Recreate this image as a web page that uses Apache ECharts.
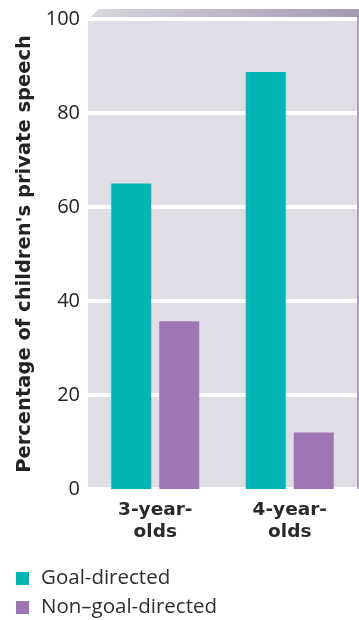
<!DOCTYPE html>
<html>
<head>
<meta charset="utf-8">
<script src="https://cdn.jsdelivr.net/npm/echarts@6/dist/echarts.min.js"></script>
<style>
  html, body { margin: 0; padding: 0; background: #ffffff; }
  #chart { width: 359px; height: 620px; }
</style>
</head>
<body>
<div id="chart"></div>
<script>
// Share of private speech by age group
const categories = ['3-year-\nolds', '4-year-\nolds'];
const goalDirected = [65, 88.7];
const nonGoalDirected = [35.7, 12];
const yTicks = { min: 0, max: 100, interval: 20 };
const seriesNames = ['Goal-directed', 'Non\u2013goal-directed'];

const FONT = '"Open Sans", Lato, sans-serif';
const BOLD_FONT = '"DejaVu Sans", "Open Sans", sans-serif';
const chart = echarts.init(document.getElementById('chart'), null, { renderer: 'canvas' });

const legendBase = {
  orient: 'vertical',
  left: 16,
  padding: 0,
  itemWidth: 13, itemHeight: 13,
  icon: 'rect',
  textStyle: { fontFamily: FONT, fontSize: 20.5, color: '#2e2e2e', padding: [0, 0, 0, 7] }
};

chart.setOption({
  animation: false,
  backgroundColor: '#ffffff',
  grid: {
    left: 88, right: 2, top: 19, bottom: 131,
    show: true, backgroundColor: '#e0dde6', borderWidth: 0
  },
  // top bevel and right side of the panel
  graphic: [
    {
      type: 'polygon',
      shape: { points: [[88, 19.5], [99, 9], [359, 9], [359, 19.5]] },
      style: {
        fill: new echarts.graphic.LinearGradient(0, 0, 1, 0, [
          { offset: 0, color: '#d9d5e1' },
          { offset: 1, color: '#a39bb3' }
        ])
      },
      silent: true
    },
    {
      type: 'rect',
      shape: { x: 357, y: 19, width: 2, height: 470 },
      style: { fill: '#aaa2ba' },
      silent: true
    }
  ],
  legend: [
    Object.assign({}, legendBase, { top: 568, data: [seriesNames[0]] }),
    Object.assign({}, legendBase, { top: 597, data: [seriesNames[1]] })
  ],
  xAxis: {
    type: 'category',
    data: categories,
    axisLine: { show: false },
    axisTick: { show: false },
    axisLabel: {
      fontFamily: BOLD_FONT, fontWeight: 'bold', fontSize: 18.5, color: '#2a2a2a',
      lineHeight: 22, margin: 10, align: 'center'
    }
  },
  yAxis: {
    type: 'value',
    min: yTicks.min, max: yTicks.max, interval: yTicks.interval,
    name: "Percentage of children's private speech",
    nameLocation: 'middle',
    nameRotate: 90,
    nameGap: 52,
    nameTextStyle: { fontFamily: BOLD_FONT, fontWeight: 'bold', fontSize: 19.5, color: '#222222' },
    axisLine: { show: false },
    axisTick: { show: false },
    axisLabel: { fontFamily: FONT, fontSize: 20, color: '#222222', margin: 8 },
    splitLine: { show: true, lineStyle: { color: '#ffffff', width: 4 } }
  },
  series: [
    {
      name: seriesNames[0], type: 'bar', data: goalDirected,
      barWidth: 40, barGap: '20%',
      itemStyle: { color: '#00b5b3' }
    },
    {
      name: seriesNames[1], type: 'bar', data: nonGoalDirected,
      barWidth: 40, barGap: '20%',
      itemStyle: { color: '#9e76b4' }
    }
  ]
});
</script>
</body>
</html>
